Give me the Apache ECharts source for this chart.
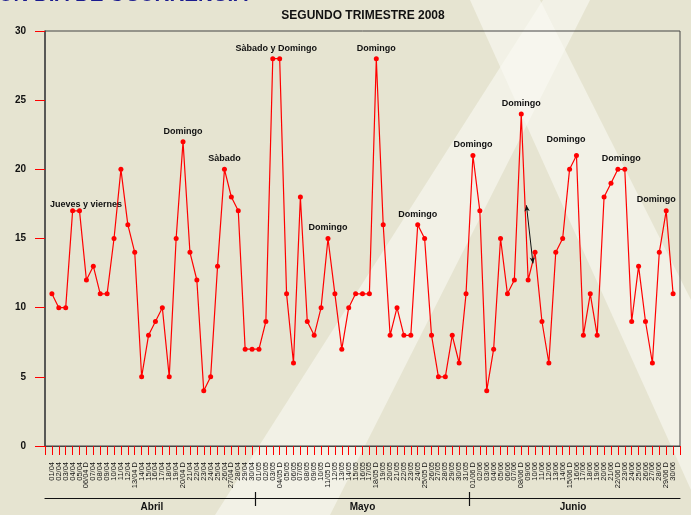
<!DOCTYPE html>
<html lang="es">
<head>
<meta charset="UTF-8">
<title>Segundo trimestre 2008</title>
<script src="https://cdn.jsdelivr.net/npm/echarts@6.0.0/dist/echarts.min.js"></script>
<style>
  html, body { margin: 0; padding: 0; background: #e6e4d1; }
  #chart { width: 691px; height: 515px; }
</style>
</head>
<body>
<div id="chart"></div>
<script>
  // etiquetas del eje x (D = domingo)
  var dias = [
    '01/04','02/04','03/04','04/04','05/04','06/04 D','07/04','08/04','09/04','10/04',
    '11/04','12/04','13/04 D','14/04','15/04','16/04','17/04','18/04','19/04','20/04 D',
    '21/04','22/04','23/04','24/04','25/04','26/04','27/04 D','28/04','29/04','30/04',
    '01/05','02/05','03/05','04/05 D','05/05','06/05','07/05','08/05','09/05','10/05',
    '11/05 D','12/05','13/05','14/05','15/05','16/05','17/05','18/05 D','19/05','20/05',
    '21/05','22/05','23/05','24/05','25/05 D','26/05','27/05','28/05','29/05','30/05','31/05',
    '01/06 D','02/06','03/06','04/06','05/06','06/06','07/06','08/06 D','09/06','10/06',
    '11/06','12/06','13/06','14/06','15/06 D','16/06','17/06','18/06','19/06','20/06',
    '21/06','22/06 D','23/06','24/06','25/06','26/06','27/06','28/06','29/06 D','30/06'
  ];
  var abril = [11,10,10,17,17,12,13,11,11,15,20,16,14,5,8,9,10,5,15,22,14,12,4,5,13,20,18,17,7,7];
  var mayo  = [7,9,28,28,11,6,18,9,8,10,15,11,7,10,11,11,11,28,16,8,10,8,8,16,15,8,5,5,8,6,11];
  var junio = [21,17,4,7,15,11,12,24,12,14,9,6,14,15,20,21,8,11,8,18,19,20,20,9,13,9,6,14,17,11];
  var meses = ['Abril', 'Mayo', 'Junio'];
  var diasPorMes = [30, 31, 30];
  var notas = [
    { dias: ['04/04', '05/04'], texto: 'Jueves y viernes' },
    { dias: ['20/04'], texto: 'Domingo' },
    { dias: ['26/04'], texto: 'Sàbado' },
    { dias: ['03/05', '04/05'], texto: 'Sàbado y Domingo' },
    { dias: ['11/05'], texto: 'Domingo' },
    { dias: ['18/05'], texto: 'Domingo' },
    { dias: ['24/05'], texto: 'Domingo' },
    { dias: ['01/06'], texto: 'Domingo' },
    { dias: ['08/06'], texto: 'Domingo' },
    { dias: ['15/06', '16/06'], texto: 'Domingo' },
    { dias: ['22/06', '23/06'], texto: 'Domingo' },
    { dias: ['29/06'], texto: 'Domingo' }
  ];
  // flecha negra junto al 09/06 (x = dia, y = valor)
  var flecha = [[69.75, 17.4], [70.7, 13.2]];

  var valores = abril.concat(mayo, junio);
  var serie = valores.map(function (v, i) { return [i + 1, v]; });

  // desplazamiento de algunas notas respecto al punto
  var ajusteNota = { 0: [10, 4], 9: [-7, -5], 11: [-10, -1] };

  var puntosNota = notas.map(function (n, k) {
    var idx = n.dias.map(function (d) {
      return dias.findIndex(function (l) { return l.slice(0, 5) === d; });
    });
    var x = idx.reduce(function (a, b) { return a + b; }, 0) / idx.length + 1;
    var y = Math.max.apply(null, idx.map(function (i) { return valores[i]; }));
    return { name: n.texto, coord: [x, y], label: { offset: ajusteNota[k] || [0, 0] } };
  });

  // limites y centros de los meses
  var divisiones = [], centros = [], acum = 0;
  diasPorMes.forEach(function (n, i) {
    centros.push(acum + (n + 1) / 2);
    acum += n;
    if (i < diasPorMes.length - 1) divisiones.push(acum + 0.5);
  });

  var fuente = 'Liberation Sans, Arial, sans-serif';
  var chart = echarts.init(document.getElementById('chart'));

  var option = {
    backgroundColor: '#e6e4d1',
    animation: false,
    textStyle: { fontFamily: fuente },
    title: {
      text: 'SEGUNDO TRIMESTRE 2008',
      left: 358, top: 5, textAlign: 'center',
      textStyle: { fontSize: 12, fontWeight: 'bold', color: '#111', fontFamily: fuente }
    },
    graphic: [
      { type: 'polygon', z: -10, silent: true,
        shape: { points: [[543, 0], [590, 0], [330, 515], [215, 515]] },
        style: { fill: 'rgba(250,250,244,0.6)' } },
      { type: 'polygon', z: -10, silent: true,
        shape: { points: [[470, 0], [540, 0], [691, 300], [691, 490]] },
        style: { fill: 'rgba(250,250,244,0.6)' } },
      { type: 'text', z: 10, silent: true, x: 248, y: -4.5,
        style: { text: 'SEGÚN DÍA DE OCURRENCIA', fill: '#1b1b8f', fontSize: 20.5,
                 fontWeight: 'bold', fontFamily: fuente, align: 'right', verticalAlign: 'middle' } }
    ],
    grid: {
      left: 45, right: 11, top: 31, bottom: 69,
      show: true, borderColor: '#444', borderWidth: 1, backgroundColor: 'transparent',
      containLabel: false, outerBoundsMode: 'none'
    },
    xAxis: [
      {
        type: 'value', min: 0, max: dias.length + 1, interval: 1,
        axisLine: { lineStyle: { color: '#444', width: 1.2 } },
        axisTick: { length: 9, lineStyle: { color: '#ff0000' } },
        splitLine: { show: false },
        axisLabel: {
          rotate: 90, fontSize: 7.5, margin: 16, color: '#111', fontFamily: fuente,
          formatter: function (v) { return dias[v - 1] || ''; }
        }
      },
      {
        type: 'value', min: 0, max: dias.length + 1, position: 'bottom', offset: 52,
        axisLine: { lineStyle: { color: '#111', width: 1.2 } },
        axisTick: { customValues: divisiones, length: 8, lineStyle: { color: '#111', width: 1.2 } },
        splitLine: { show: false },
        axisLabel: {
          customValues: centros, margin: 4, fontSize: 10, fontWeight: 'bold', color: '#111',
          fontFamily: fuente,
          formatter: function (v) { return meses[centros.indexOf(v)] || ''; }
        }
      },
      {
        type: 'value', min: 0, max: dias.length + 1, position: 'bottom', offset: 52,
        axisLine: { show: false },
        axisTick: { customValues: divisiones, inside: true, length: 6, lineStyle: { color: '#111', width: 1.2 } },
        splitLine: { show: false },
        axisLabel: { show: false }
      }
    ],
    yAxis: {
      type: 'value', min: 0, max: 30, interval: 5,
      axisLine: { show: true, lineStyle: { color: '#444', width: 1.5 } },
      axisTick: { show: true, length: 10, lineStyle: { color: '#ff0000' } },
      splitLine: { show: false },
      axisLabel: { fontSize: 10, fontWeight: 'bold', color: '#111', margin: 19, fontFamily: fuente }
    },
    series: [{
      type: 'line',
      data: serie,
      symbol: 'circle',
      symbolSize: 5,
      lineStyle: { color: '#ff0000', width: 1.2 },
      itemStyle: { color: '#ff0000' },
      markPoint: {
        symbol: 'circle', symbolSize: 0, silent: true,
        label: {
          show: true, position: 'top', distance: 6, formatter: '{b}',
          fontSize: 9, fontWeight: 'bold', color: '#111', fontFamily: fuente
        },
        data: puntosNota
      },
      markLine: {
        silent: true, symbol: ['arrow', 'arrow'], symbolSize: [4, 6],
        lineStyle: { color: '#111', width: 1, type: 'solid' },
        label: { show: false },
        data: [[{ coord: flecha[0] }, { coord: flecha[1] }]]
      }
    }]
  };

  chart.setOption(option);
</script>
</body>
</html>
